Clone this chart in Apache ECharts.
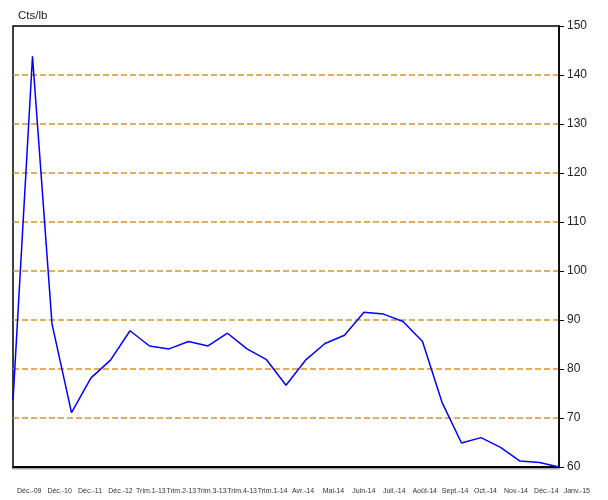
<!DOCTYPE html>
<html><head><meta charset="utf-8">
<script src="https://cdn.jsdelivr.net/npm/echarts@6/dist/echarts.min.js"></script>
<style>html,body{margin:0;padding:0;background:#fff}#c{width:608px;height:500px}</style>
</head><body><div id="c"></div>
<script>
const pointIdx = [];
const prices = [73.6, 143.8, 89.2, 71.1, 78.2, 81.8, 87.8, 84.7, 84.1, 85.6, 84.7, 87.3, 84.1, 81.9, 76.7, 81.8, 85.2, 86.9, 91.6, 91.2, 89.7, 85.6, 73.2, 64.9, 66.0, 64.0, 61.2, 60.9, 60.0];
const tickLabels = ['Déc.-09','Déc.-10','Déc.-11','Déc.-12','Trim.1-13','Trim.2-13','Trim.3-13','Trim.4-13','Trim.1-14','Avr.-14','Mai-14','Juin-14','Juil.-14','Août-14','Sept.-14','Oct.-14','Nov.-14','Déc.-14','Janv.-15'];
const yTicks = [60, 150, 10];
for (let i = 0; i < prices.length; i++) pointIdx.push(String(i));
const font = 'Liberation Sans, Arial, sans-serif';
const chart = echarts.init(document.getElementById('c'));
chart.setOption({
  animation: false,
  title: { text: 'Cts/lb', left: 13, top: 5, textStyle: { fontFamily: font, fontSize: 11.5, fontWeight: 'normal', color: '#222' } },
  grid: [
    { left: 13, right: 49, top: 26, height: 441, show: true, borderColor: '#000', borderWidth: 1.5 },
    { left: 14, right: 16, top: 480, height: 4 }
  ],
  xAxis: [
    { type: 'category', gridIndex: 0, data: pointIdx, boundaryGap: false,
      axisLine: { show: true, lineStyle: { color: '#000', width: 2, shadowColor: 'rgba(0,0,0,0.35)', shadowOffsetY: 1.5 } }, axisTick: { show: false }, axisLabel: { show: false }, splitLine: { show: false } },
    { type: 'category', gridIndex: 1, data: tickLabels, boundaryGap: true,
      axisLine: { show: false }, axisTick: { show: false },
      axisLabel: { interval: 0, fontFamily: font, fontSize: 7, color: '#333', margin: 4 } }
  ],
  yAxis: [
    { type: 'value', gridIndex: 0, position: 'right', min: yTicks[0], max: yTicks[1], interval: yTicks[2],
      axisLine: { show: true, lineStyle: { color: '#000', width: 1.5 } },
      axisTick: { show: true, length: 5, lineStyle: { color: '#000' } },
      axisLabel: { fontFamily: font, fontSize: 12, color: '#222', margin: 8 },
      splitLine: { show: true, showMinLine: false, showMaxLine: false, lineStyle: { color: ['#D9922A'], type: [6, 3], width: 1.6 } } },
    { type: 'value', gridIndex: 1, show: false }
  ],
  series: [
    { type: 'line', xAxisIndex: 0, yAxisIndex: 0, data: prices, symbol: 'none',
      lineStyle: { color: '#0000FF', width: 1.5 } }
  ]
});
</script></body></html>
